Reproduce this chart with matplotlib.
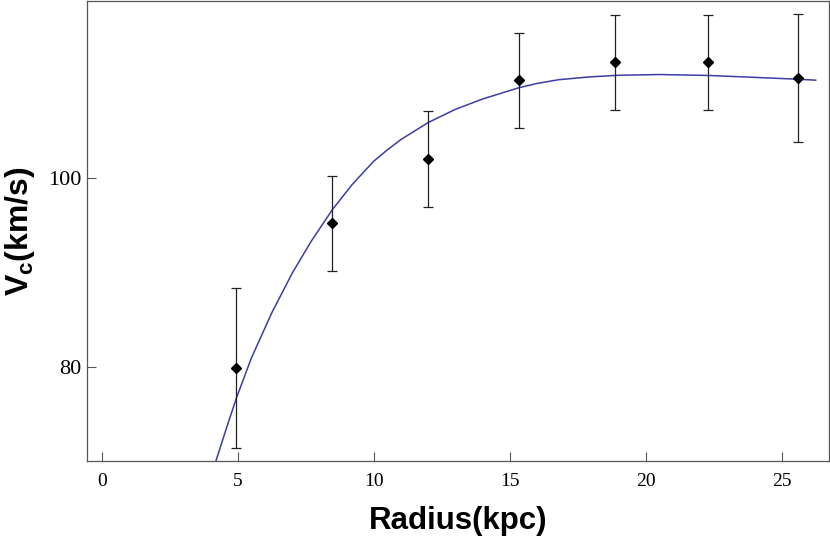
import matplotlib

matplotlib.use("Agg")
import matplotlib.pyplot as plt

# measured rotation curve
radius = [4.95, 8.48, 12.0, 15.34, 18.87, 22.3, 25.6]
vc = [79.9, 95.2, 102.0, 110.4, 112.3, 112.3, 110.6]
vc_err = [8.5, 5.05, 5.1, 5.05, 5.05, 5.05, 6.8]

# fitted model curve
fit_r = [4.20, 4.6, 4.95, 5.5, 6.25, 7.0, 7.7, 8.49, 9.2, 10.0, 10.5, 11.0, 12.0,
         13.0, 14.0, 15.34, 16.0, 16.8, 17.95, 19.0, 20.5, 22.3, 24.0, 25.6, 26.25]
fit_v = [70.0, 73.6, 76.65, 80.9, 85.7, 89.9, 93.3, 96.7, 99.3, 101.8, 103.0, 104.1, 105.9,
         107.3, 108.4, 109.6, 110.05, 110.45, 110.75, 110.92, 111.0, 110.9, 110.7, 110.5, 110.4]

x_ticks = [0, 5, 10, 15, 20, 25]
y_ticks = [80, 100]

plt.rcParams["mathtext.fontset"] = "custom"
plt.rcParams["mathtext.bf"] = "Liberation Sans:bold"
plt.rcParams["mathtext.rm"] = "Liberation Sans"

figure = plt.figure(figsize=(8.3, 5.42), dpi=100)
axis = figure.add_axes([87 / 830, 1 - 461 / 542, 742 / 830, 460 / 542])

axis.plot(fit_r, fit_v, color="#3c3ca8", linewidth=1.1, zorder=2)
axis.errorbar(radius, vc, yerr=vc_err, fmt="D", color="black", markersize=5,
              ecolor="#222222", elinewidth=0.9, capsize=3.5, capthick=0.9, zorder=3)

axis.set_xlim(-0.54, 26.74)
axis.set_ylim(70.0, 118.8)
axis.set_xticks(x_ticks)
axis.set_yticks(y_ticks)

for spine in axis.spines.values():
    spine.set_color("#555555")
    spine.set_linewidth(0.9)

axis.tick_params(direction="in", length=6.5, width=0.8, color="#555555",
                 top=False, right=False)
axis.tick_params(axis="x", pad=8.5)
axis.tick_params(axis="y", pad=4)
for label in axis.get_xticklabels():
    label.set_fontfamily("Liberation Serif")
    label.set_fontsize(14)
for label in axis.get_yticklabels():
    label.set_fontfamily("Liberation Serif")
    label.set_fontsize(16)

axis.set_xlabel("Radius(kpc)", fontfamily="Liberation Sans", fontweight="bold",
                fontsize=22.5, labelpad=12)
axis.set_ylabel(r"$\mathbf{V_c}$(km/s)", fontfamily="Liberation Sans",
                fontweight="bold", fontsize=23, labelpad=8)

figure.savefig("out.png", dpi=100)
plt.close(figure)
